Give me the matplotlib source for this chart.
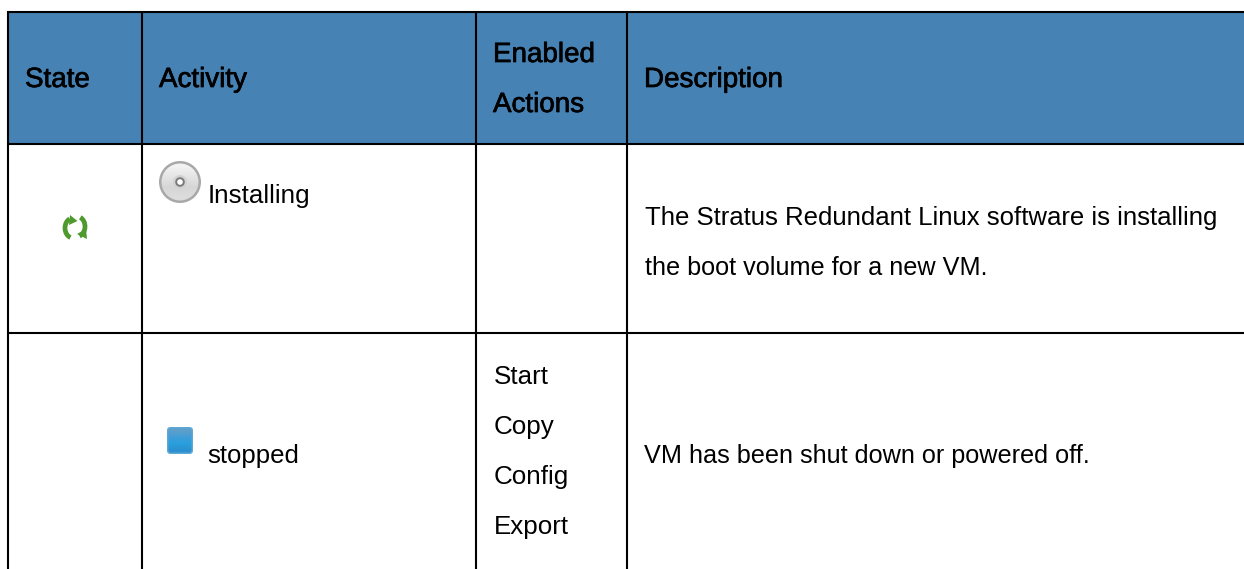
import numpy as np
import matplotlib
matplotlib.use("Agg")
import matplotlib.pyplot as plt
import matplotlib.patheffects as pe
from matplotlib.patches import Rectangle, Circle, FancyBboxPatch, Arc, Polygon

plt.rcParams['font.family'] = ['Liberation Sans', 'DejaVu Sans']

W, H = 1244, 569
col_edges = [8, 142, 476, 627, 1250]
row_edges = [12, 144, 333, 590]
header = ["State", "Activity", "Enabled\nActions", "Description"]
activities = ["Installing", "stopped"]
actions = [[], ["Start", "Copy", "Config", "Export"]]
descriptions = ["The Stratus Redundant Linux software is installing\nthe boot volume for a new VM.",
                "VM has been shut down or powered off."]
HEAD = "#4682b4"
GREEN = "#4f9a2e"
PAD = 17
FS_HEAD = 20.0
FS = 18.7

fig = plt.figure(figsize=(W/100, H/100), dpi=100)
ax = fig.add_axes([0, 0, 1, 1])
ax.set_xlim(0, W); ax.set_ylim(H, 0); ax.axis("off")


def gradient(x0, y0, w, h, stops, clip):
    """Vertical gradient clipped to a patch (icon shading)."""
    ax.add_patch(clip)
    g = np.array([matplotlib.colors.to_rgb(c) for c in stops])[:, None, :]
    im = ax.imshow(g, extent=[x0, x0+w, y0+h, y0], aspect="auto", interpolation="bilinear", zorder=clip.get_zorder()+0.1)
    im.set_clip_path(clip)
    ax.set_xlim(0, W); ax.set_ylim(H, 0)


ax.add_patch(Rectangle((col_edges[0], row_edges[0]), W+20, row_edges[1]-row_edges[0], fc=HEAD, ec="none"))
for x in col_edges[:-1]:
    ax.plot([x, x], [row_edges[0]-1, H+5], color="black", lw=1.5, solid_capstyle="butt")
for y in row_edges[:-1]:
    ax.plot([col_edges[0]-1, W+5], [y, y], color="black", lw=1.5, solid_capstyle="butt")

bold = [pe.withStroke(linewidth=0.5, foreground="black")]
for i, h in enumerate(header):
    ty = (row_edges[0]+row_edges[1])/2 + 2
    if "\n" in h:
        for j, part in enumerate(h.split("\n")):
            ax.text(col_edges[i]+PAD, ty-25+50*j, part, fontsize=FS_HEAD, va="center", ha="left", color="black", path_effects=bold)
    else:
        ax.text(col_edges[i]+PAD, ty, h, fontsize=FS_HEAD, va="center", ha="left", color="black", path_effects=bold)

# refresh icon
ax.add_patch(Arc((73, 228), 16, 20, theta1=105, theta2=250, color=GREEN, lw=3.4))
ax.add_patch(Arc((77, 226.5), 16, 20, theta1=-70, theta2=75, color=GREEN, lw=3.4))
ax.add_patch(Polygon([[70, 215], [77.5, 221], [69, 225]], fc=GREEN, ec="none"))
ax.add_patch(Polygon([[87, 239], [77, 234], [86, 229]], fc=GREEN, ec="none"))

# disc icon
ax.add_patch(Circle((180, 182), 21, fc="#a8a8a8", ec="none"))
gradient(160, 162, 40, 40, ["#f2f2f2", "#e4e4e4", "#d6d6d6", "#dcdcdc"], Circle((180, 182), 18.5, fc="none", ec="none"))
ax.add_patch(Circle((180, 182), 7, fc="#d2d2d2", ec="none", zorder=3))
ax.add_patch(Circle((180, 182), 3.8, fc="#ffffff", ec="#7a7a7a", lw=1.4, zorder=3))

# stopped icon
ax.add_patch(FancyBboxPatch((167, 427), 26, 27, boxstyle="round,pad=0,rounding_size=3.5", fc="#5fa8d6", ec="none"))
gradient(168, 428, 24, 25, ["#5d9fcb", "#3f9dd8", "#29a0dd", "#2b90d0"],
         FancyBboxPatch((168.5, 428.5), 23, 24, boxstyle="round,pad=0,rounding_size=2.5", fc="none", ec="none"))

ax.text(208, 196, activities[0], fontsize=FS, va="center", ha="left")
ax.text(207, 456, activities[1], fontsize=FS-0.2, va="center", ha="left")

for j, a in enumerate(actions[1]):
    ax.text(col_edges[2]+PAD+1, 377+50*j, a, fontsize=FS, va="center", ha="left")

desc_x = col_edges[3]+PAD+1
line_sizes = [18.5, 18.2]
for j, line in enumerate(descriptions[0].split("\n")):
    ax.text(desc_x, 218+50*j, line, fontsize=line_sizes[j], va="center", ha="left")
ax.text(desc_x-1, 456, descriptions[1], fontsize=18.2, va="center", ha="left")

fig.savefig("out.png", dpi=100, facecolor="white")
